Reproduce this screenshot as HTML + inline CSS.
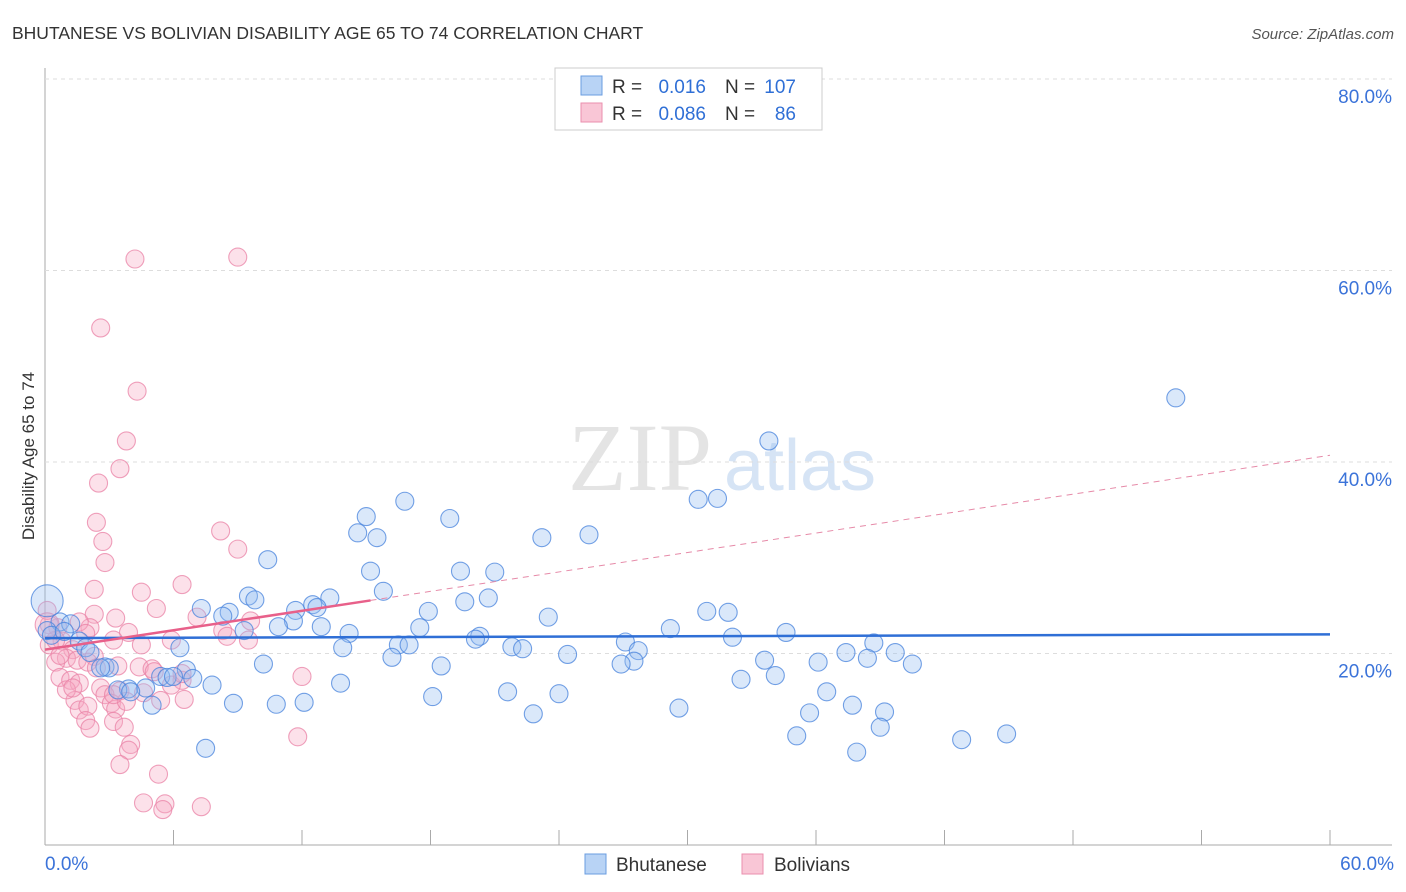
<!DOCTYPE html>
<html><head><meta charset="utf-8"><style>
body{margin:0;background:#fff;font-family:"Liberation Sans",sans-serif}
svg{display:block}
</style></head><body>
<svg id="c" width="1406" height="892">
<text x="12" y="39" font-size="17.5" fill="#333">BHUTANESE VS BOLIVIAN DISABILITY AGE 65 TO 74 CORRELATION CHART</text>
<text x="1394" y="39" font-size="15" fill="#555" font-style="italic" text-anchor="end">Source: ZipAtlas.com</text>
<text x="640" y="490" font-size="96" fill="#e4e4e4" font-family="Liberation Serif,serif" text-anchor="middle">ZIP</text>
<text x="800" y="490" font-size="72" fill="#d6e4f5" text-anchor="middle">atlas</text>
<text transform="translate(34,456) rotate(-90)" font-size="17" fill="#333" text-anchor="middle">Disability Age 65 to 74</text>
<g id="grid"></g><g id="pts"></g><g id="trend"></g>
<g>
<rect x="555" y="68" width="267" height="62" fill="#fff" stroke="#ccc"/>
<rect x="581" y="76" width="21" height="19" fill="#b8d3f5" stroke="#6a9de0"/>
<rect x="581" y="103" width="21" height="19" fill="#f9c6d6" stroke="#ea8fae"/>
<text y="93" font-size="19" fill="#333"><tspan x="612">R =</tspan><tspan x="706" text-anchor="end" fill="#2f6fd6">0.016</tspan><tspan x="725">N =</tspan><tspan x="796" text-anchor="end" fill="#2f6fd6">107</tspan></text>
<text y="120" font-size="19" fill="#333"><tspan x="612">R =</tspan><tspan x="706" text-anchor="end" fill="#2f6fd6">0.086</tspan><tspan x="725">N =</tspan><tspan x="796" text-anchor="end" fill="#2f6fd6">86</tspan></text>
</g>
<g>
<rect x="585" y="854" width="21" height="20" fill="#b8d3f5" stroke="#6a9de0"/>
<text x="616" y="871" font-size="19" fill="#333">Bhutanese</text>
<rect x="742" y="854" width="21" height="20" fill="#f9c6d6" stroke="#ea8fae"/>
<text x="774" y="871" font-size="19" fill="#333">Bolivians</text>
</g>
</svg>
<script>
const yTicks=[20,40,60,80];
const xTickLabels=["0.0%","60.0%"];
const blueX=[52.8,33.8,30.5,31.4,16.8,15.0,18.9,14.6,15.5,23.2,25.4,10.4,15.2,19.4,21.0,15.8,9.5,9.8,13.3,20.7,12.5,11.7,12.7,7.3,8.6,8.3,17.9,19.6,23.5,30.9,31.9,11.6,10.9,12.9,17.5,29.2,34.6,14.2,9.3,20.3,20.1,27.1,32.1,38.7,21.8,22.3,13.9,16.5,17.0,6.3,24.4,27.7,37.4,39.7,38.4,16.2,27.5,26.9,33.6,36.1,40.5,10.2,18.5,6.6,2.8,3.0,2.6,5.4,5.7,6.0,6.9,32.5,34.1,7.8,13.8,3.9,4.7,3.4,4.0,21.6,24.0,36.5,18.1,8.8,10.8,12.1,5.0,37.7,29.6,35.7,22.8,39.2,39.0,35.1,42.8,44.9,7.5,37.9,0.7,1.2,1.6,1.9,0.1,0.3,0.9,2.1,0.1];
const blueY=[46.7,42.2,36.1,36.2,35.9,34.3,34.1,32.6,32.1,32.1,32.4,29.8,28.6,28.6,28.5,26.5,26.0,25.6,25.8,25.8,25.1,24.5,24.8,24.7,24.3,23.9,24.4,25.4,23.8,24.4,24.3,23.4,22.8,22.8,22.7,22.6,22.2,22.1,22.4,21.8,21.5,21.2,21.7,21.1,20.7,20.5,20.6,20.9,20.9,20.6,19.9,20.3,20.1,20.1,19.5,19.6,19.2,18.9,19.3,19.1,18.9,18.9,18.7,18.3,18.6,18.5,18.5,17.6,17.5,17.6,17.4,17.3,17.7,16.7,16.9,16.3,16.4,16.2,16.0,16.0,15.8,16.0,15.5,14.8,14.7,14.9,14.6,14.6,14.3,13.8,13.7,13.9,12.3,11.4,11.0,11.6,10.1,9.7,23.3,23.1,21.3,20.6,22.4,21.9,22.3,20.1,25.5];
const pinkX=[9.0,4.2,2.6,4.3,3.8,3.5,2.5,2.4,2.7,8.2,9.0,2.8,4.5,6.4,2.3,5.2,2.3,9.6,3.3,7.1,3.9,8.3,2.1,1.6,1.9,0.6,0.8,0.2,0.2,1.3,1.0,2.3,1.5,2.0,3.4,0.5,4.5,4.4,5.0,6.4,0.7,1.2,1.6,2.6,3.5,5.4,2.8,5.1,12.0,1.4,1.0,1.6,2.0,3.1,3.3,3.8,1.9,2.1,3.2,3.7,4.0,6.5,4.6,5.9,11.8,3.9,3.5,5.3,4.6,5.6,7.3,5.5,0.1,0.5,0.7,2.4,8.5,9.5,5.9,3.2,6.4,3.2,1.3,0.1];
const pinkY=[61.4,61.2,54.0,47.4,42.2,39.3,37.8,33.7,31.7,32.8,30.9,29.5,26.4,27.2,26.7,24.7,24.1,23.4,23.7,23.8,22.2,22.4,22.7,23.3,22.1,22.7,21.3,23.0,20.9,20.4,19.5,19.7,19.3,19.1,18.7,19.1,20.9,18.6,18.4,17.2,17.5,17.2,16.9,16.4,16.1,15.1,15.7,18.1,17.6,15.1,16.2,14.1,14.5,14.8,14.2,15.0,13.0,12.2,12.9,12.3,10.5,15.2,15.9,16.7,11.3,9.9,8.4,7.4,4.4,4.3,4.0,3.7,24.5,21.4,19.8,18.5,21.8,21.4,21.4,21.4,17.9,15.7,16.4,23.0];
const blueTrend=[21.6,22.0];
const pinkTrend=[20.4,40.7];
const pinkSolidEnd=15.2;
const X0=45,X1=1330,Y0=845,Y80=79;
const sx=v=>X0+v/60*(X1-X0);
const sy=v=>Y0-v/80*(Y0-Y80);
const NS="http://www.w3.org/2000/svg";
function mk(t,a,p){const e=document.createElementNS(NS,t);for(const k in a)e.setAttribute(k,a[k]);p.appendChild(e);return e;}
const g=document.getElementById('grid');
const ax=mk('line',{x1:X0,y1:68,x2:X0,y2:Y0,stroke:'#aaa'},g);


const bx=mk('line',{x1:X0,y1:Y0,x2:1392,y2:Y0,stroke:'#aaa'},g);


yTicks.forEach(t=>{
 const l=mk('line',{x1:X0,y1:sy(t),x2:1392,y2:sy(t),stroke:'#ddd','stroke-dasharray':'4,4'},g);
 
 
 const tx=mk('text',{x:1392,y:sy(t)+24,'font-size':19,fill:'#3b73d9','text-anchor':'end'},g);
 tx.textContent=t.toFixed(1)+'%';
 
 
});
for(let i=0;i<=10;i++){
 const l=mk('line',{x1:sx(i*6),y1:830,x2:sx(i*6),y2:Y0,stroke:'#aaa'},g);
 
 
}
const t0=mk('text',{x:45,y:870,'font-size':19,fill:'#3b73d9'},g);t0.textContent=xTickLabels[0];


const t1=mk('text',{x:1394,y:870,'font-size':19,fill:'#3b73d9','text-anchor':'end'},g);t1.textContent=xTickLabels[1];


const p=document.getElementById('pts');
pinkX.forEach((x,i)=>{
 const c=mk('circle',{cx:sx(x),cy:sy(pinkY[i]),r:(i==pinkX.length-1)?12:9,fill:'rgba(246,170,195,0.35)',stroke:'rgba(234,130,165,0.75)','stroke-width':1.1},p);
 
 
});
blueX.forEach((x,i)=>{
 const c=mk('circle',{cx:sx(x),cy:sy(blueY[i]),r:(i==blueX.length-1)?16:9,fill:'rgba(150,190,240,0.35)',stroke:'rgba(70,130,220,0.75)','stroke-width':1.1},p);
 
 
});
const tr=document.getElementById('trend');
const bl=mk('line',{x1:sx(0),y1:sy(blueTrend[0]),x2:sx(60),y2:sy(blueTrend[1]),stroke:'#2f6fd6','stroke-width':2.5},tr);


const pAt=x=>pinkTrend[0]+(pinkTrend[1]-pinkTrend[0])*x/60;
const pd=mk('line',{x1:sx(pinkSolidEnd),y1:sy(pAt(pinkSolidEnd)),x2:sx(60),y2:sy(pinkTrend[1]),stroke:'#e68aa8','stroke-width':1,'stroke-dasharray':'6,5'},tr);


const ps=mk('line',{x1:sx(0),y1:sy(pinkTrend[0]),x2:sx(pinkSolidEnd),y2:sy(pAt(pinkSolidEnd)),stroke:'#e8608a','stroke-width':2.5},tr);


</script>
</body></html>
